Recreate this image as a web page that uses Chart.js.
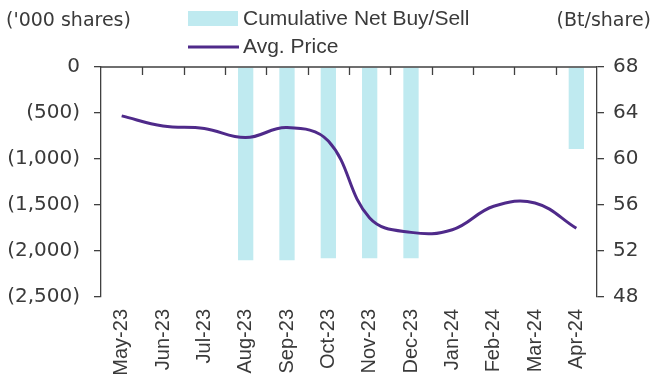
<!DOCTYPE html>
<html>
<head>
<meta charset="utf-8">
<script src="https://cdn.jsdelivr.net/npm/chart.js"></script>
<style>
  html, body { margin: 0; padding: 0; background: #fff; }
  #wrap { width: 655px; height: 383px; }
</style>
</head>
<body>
<div id="wrap"><canvas id="flowChart" width="655" height="383"></canvas></div>
<script>
// monthly data
const months = ['May-23', 'Jun-23', 'Jul-23', 'Aug-23', 'Sep-23', 'Oct-23',
                'Nov-23', 'Dec-23', 'Jan-24', 'Feb-24', 'Mar-24', 'Apr-24'];
// cumulative net buy/sell, '000 shares (empty months have no bar)
const netBuySell = [null, null, null, -2100, -2100, -2080, -2080, -2080, null, null, null, -890];
// average price, Bt/share
const avgPrice = [63.75, 62.87, 62.65, 61.86, 62.73, 61.56, 54.87, 53.62, 53.85, 55.89, 56.18, 53.97];

// axis ranges
const sharesAxis = { min: -2500, max: 0, step: 500 };
const priceAxis = { min: 48, max: 68, step: 4 };

const legendItems = ['Cumulative Net Buy/Sell', 'Avg. Price'];
const leftTitle = "('000 shares)";
const rightTitle = '(Bt/share)';

const axisColor = '#404040';
const textColor = '#3a3a3a';
const barColor = '#bfeaf0';
const lineColor = '#4f2a8a';

function fmtShares(v) {
  if (v === 0) return '0';
  const s = Math.abs(v).toLocaleString('en-US');
  return v < 0 ? '(' + s + ')' : s;
}

// top axis line with boundary ticks, titles and legend
const frame = {
  id: 'frame',
  afterDraw(chart) {
    const { ctx, chartArea: a, scales: { x } } = chart;
    ctx.save();
    ctx.strokeStyle = axisColor;
    ctx.lineWidth = 1.3;
    ctx.beginPath();
    ctx.moveTo(a.left, a.top);
    ctx.lineTo(a.right, a.top);
    for (let i = 0; i < months.length - 1; i++) {
      const bx = Math.round((x.getPixelForValue(i) + x.getPixelForValue(i + 1)) / 2) + 0.5;
      ctx.moveTo(bx, a.top);
      ctx.lineTo(bx, a.top + 8);
    }
    ctx.stroke();

    ctx.fillStyle = textColor;
    ctx.textBaseline = 'middle';
    ctx.font = '19px "DejaVu Sans"';
    ctx.textAlign = 'left';
    ctx.fillText(leftTitle, 6, 21);
    ctx.textAlign = 'right';
    ctx.fillText(rightTitle, 651, 21);

    // legend
    ctx.fillStyle = barColor;
    ctx.fillRect(188, 11, 50, 15);
    ctx.strokeStyle = lineColor;
    ctx.lineWidth = 3;
    ctx.beginPath();
    ctx.moveTo(188, 47);
    ctx.lineTo(239, 47);
    ctx.stroke();
    ctx.fillStyle = textColor;
    ctx.textAlign = 'left';
    ctx.font = '21px "Liberation Sans"';
    ctx.fillText(legendItems[0], 243, 19);
    ctx.fillText(legendItems[1], 243, 47);
    ctx.restore();
  }
};

new Chart(document.getElementById('flowChart'), {
  data: {
    labels: months,
    datasets: [
      {
        type: 'line',
        label: legendItems[1],
        data: avgPrice,
        yAxisID: 'y1',
        borderColor: lineColor,
        borderWidth: 3,
        pointRadius: 0,
        tension: 0.4,
        order: 1
      },
      {
        type: 'bar',
        label: legendItems[0],
        data: netBuySell,
        yAxisID: 'y',
        backgroundColor: barColor,
        barPercentage: 0.37,
        categoryPercentage: 1,
        order: 2
      }
    ]
  },
  options: {
    responsive: false,
    animation: false,
    layout: { padding: { top: 67, left: 0, right: 0, bottom: 0 } },
    plugins: { legend: { display: false }, tooltip: { enabled: false } },
    scales: {
      x: {
        position: 'bottom',
        offset: true,
        grid: { display: false, drawTicks: false },
        border: { display: false },
        ticks: {
          minRotation: 90,
          maxRotation: 90,
          padding: 12,
          color: textColor,
          font: { family: 'Liberation Sans', size: 20 }
        },
        afterFit(s) { s.height = 86; }
      },
      y: {
        position: 'left',
        min: sharesAxis.min,
        max: sharesAxis.max,
        grid: { drawOnChartArea: false, tickLength: 7, color: axisColor, lineWidth: 1.3 },
        border: { display: true, color: axisColor, width: 1.3 },
        ticks: {
          stepSize: sharesAxis.step,
          padding: 14,
          color: textColor,
          font: { family: 'DejaVu Sans', size: 20 },
          callback: v => fmtShares(v)
        },
        afterFit(s) { s.width = 101; }
      },
      y1: {
        position: 'right',
        min: priceAxis.min,
        max: priceAxis.max,
        grid: { drawOnChartArea: false, tickLength: 7, color: axisColor, lineWidth: 1.3 },
        border: { display: true, color: axisColor, width: 1.3 },
        ticks: {
          stepSize: priceAxis.step,
          padding: 9,
          color: textColor,
          font: { family: 'DejaVu Sans', size: 20 }
        },
        afterFit(s) { s.width = 58; }
      }
    }
  },
  plugins: [frame]
});
</script>
</body>
</html>
